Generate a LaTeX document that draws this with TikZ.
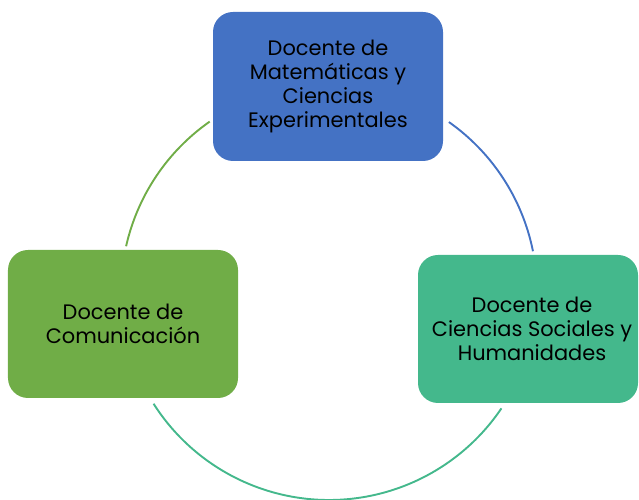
\documentclass[tikz,border=0pt]{standalone}
\usepackage{fontspec}
\setmainfont{Poppins}
\definecolor{docblue}{HTML}{4472C4}
\definecolor{docgreen}{HTML}{70AD47}
\definecolor{docteal}{HTML}{44B88C}

\begin{document}
\begin{tikzpicture}[x=1bp,y=1bp,
    box/.style={rectangle, rounded corners=20bp, align=center, inner sep=0pt,
                font=\fontsize{21}{24}\selectfont},
    ring/.style={line width=1.9bp}]

\useasboundingbox (0,0) rectangle (639,500);

    \coordinate (o) at (329,208);

    \node (a) at (328,413.5) [box, fill=docblue, minimum width=230bp, minimum height=149bp]
        {Docente de\\Matemáticas y\\Ciencias\\Experimentales\rule[-4bp]{0pt}{0pt}};
    \node (b) at (528,171) [box, fill=docteal, minimum width=220bp, minimum height=148bp,
        text depth=0pt]
        {\hspace*{8bp}Docente de\\\hspace*{8bp}Ciencias Sociales y\\\hspace*{8bp}Humanidades};
    \node (c) at (123,176) [box, fill=docgreen, minimum width=230bp, minimum height=148bp]
        {Docente de\\Comunicación};

    % arcs of the cycle
    \draw[ring, docgreen] (o) ++(167.3:208) arc[start angle=167.3, end angle=125, radius=208];
    \draw[ring, docblue] (o) ++(54.8:208) arc[start angle=54.8, end angle=11.3, radius=208];
    \draw[ring, docteal] (o) ++(-34:208) arc[start angle=-34, end angle=-147.5, radius=208];

\end{tikzpicture}
\end{document}
